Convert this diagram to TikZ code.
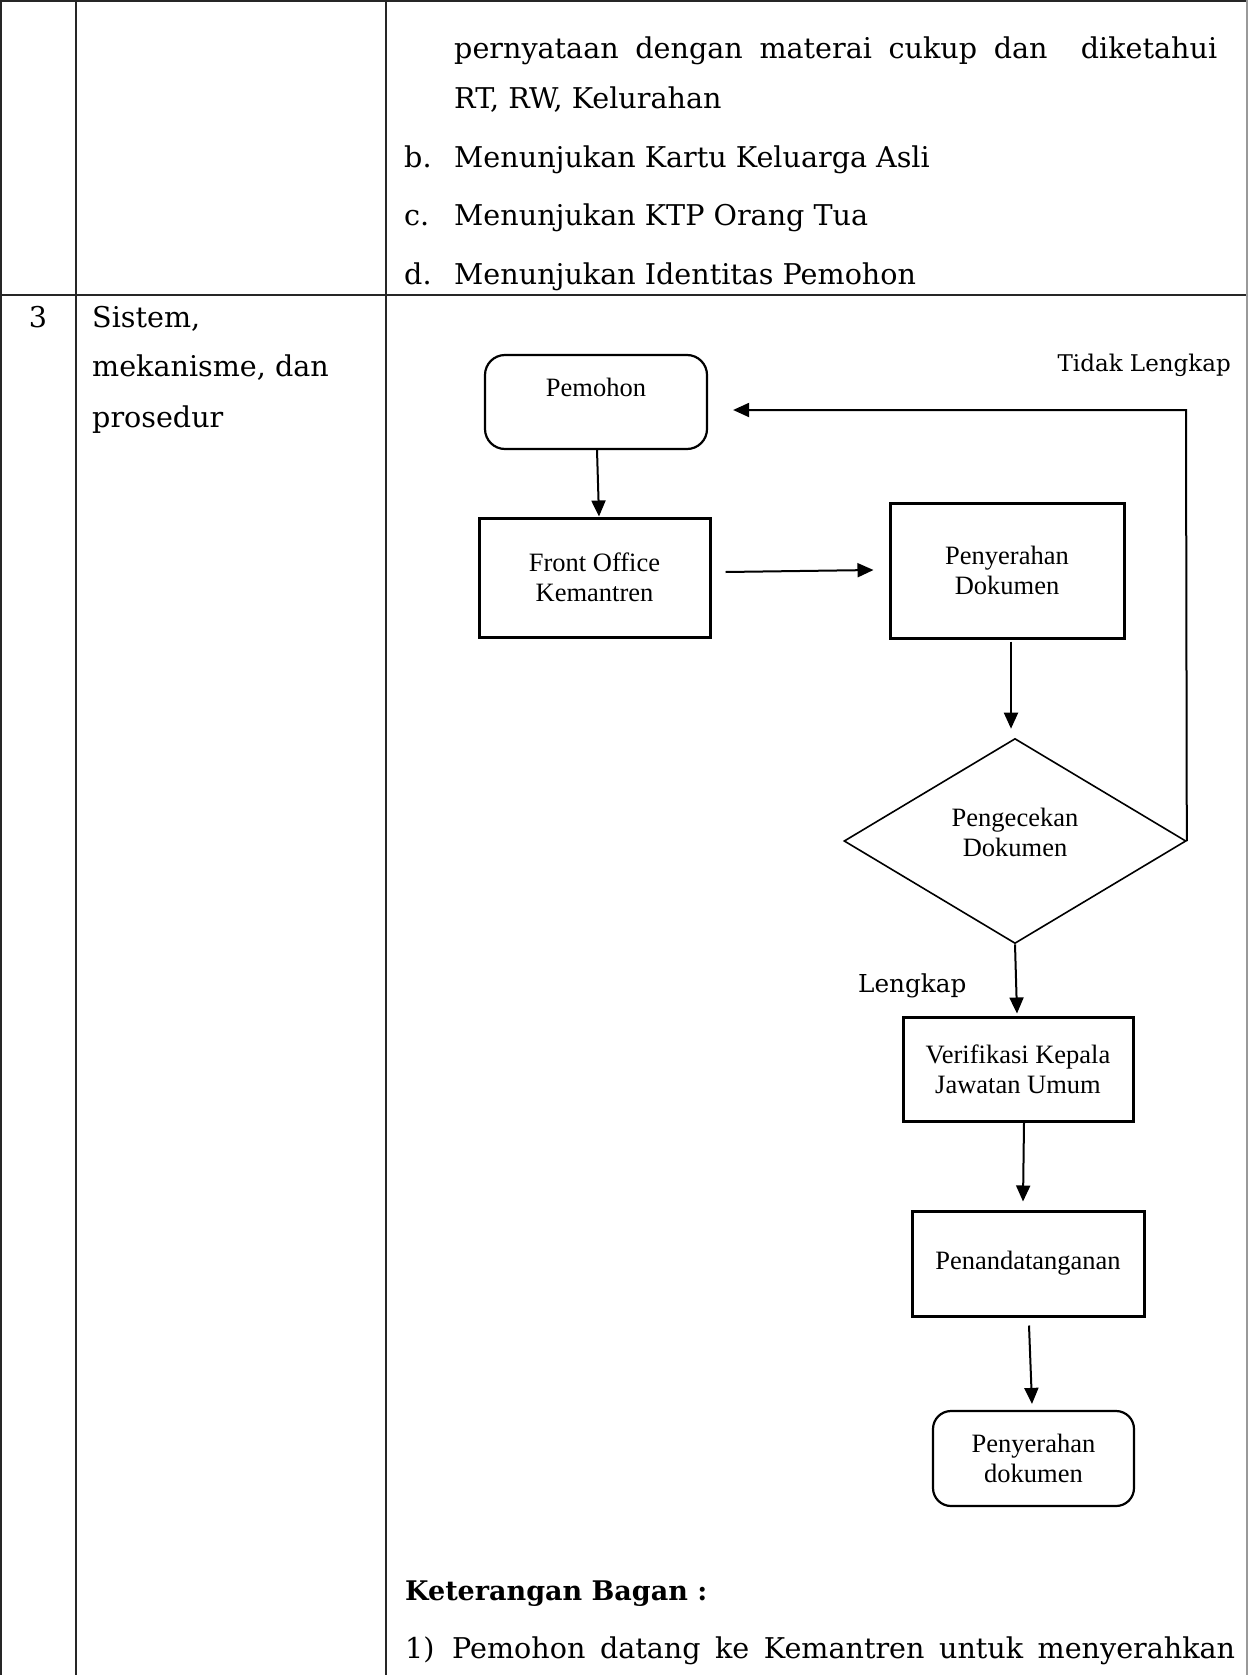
\documentclass[tikz,border=0pt]{standalone}
\usepackage{fontspec}
\setmainfont{DejaVu Serif}
\newfontfamily\tnr{Liberation Serif}
\usetikzlibrary{arrows.meta,shapes.geometric,calc}
\begin{document}
\begin{tikzpicture}[x=1pt,y=-1pt,
  tbl/.style={line width=2pt, draw=black!85},
  body/.style={font=\fontsize{28.6}{32}\selectfont, anchor=base west, inner sep=0pt},
  ftext/.style={font=\tnr\fontsize{26.5}{30}\selectfont, align=center, inner sep=0pt},
  sqbox/.style={draw, line width=3pt, inner sep=0pt},
  rbox/.style={draw, line width=2.2pt, rounded corners=20pt, inner sep=0pt},
  dbox/.style={draw, line width=1.6pt, diamond, aspect=1.67, inner sep=0pt},
  arr/.style={line width=2pt, -{Triangle[length=16pt,width=14pt]}}
]
\useasboundingbox (0,0) rectangle (1248,1675);
% table
\draw[tbl] (0,1) -- (1248,1);
\draw[tbl] (0,295) -- (1248,295);
\draw[tbl] (1,0) -- (1,1675);
\draw[tbl] (76,0) -- (76,1675);
\draw[tbl] (386,0) -- (386,1675);
\draw[line width=1.5pt, draw=black!40] (1247,0) -- (1247,1675);
% top cell text
\node[body] (t1) at (454,59) {\makebox[763pt][s]{pernyataan dengan materai cukup dan\ \ diketahui}};
\node[body] (t2) at (454,109) {RT, RW, Kelurahan};
\node[body] (lb) at (404,167) {b.};
\node[body] (t3) at (454,167) {Menunjukan Kartu Keluarga Asli};
\node[body] (lc) at (404,225) {c.};
\node[body] (t4) at (454,225) {Menunjukan KTP Orang Tua};
\node[body] (ld) at (404,284) {d.};
\node[body] (t5) at (454,284) {Menunjukan Identitas Pemohon};
% left column
\node[body, anchor=base] (n3) at (38,327) {3};
\node[body] (s1) at (92,327) {Sistem,};
\node[body] (s2) at (92,376) {mekanisme, dan};
\node[body] (s3) at (92,427) {prosedur};
% flowchart
\node[rbox, minimum width=222pt, minimum height=94pt] (pem) at (596,402) {};
\node[ftext] (pemt) at (596,387) {Pemohon};
\node[sqbox, minimum width=231pt, minimum height=119pt, ftext, draw, line width=3pt] (fo) at (594.5,577.5) {Front Office\\Kemantren};
\node[sqbox, minimum width=234pt, minimum height=135pt, ftext, draw, line width=3pt] (pd) at (1007,570.5) {Penyerahan\\Dokumen};
\node[dbox, minimum width=342pt, minimum height=205pt] (dia) at (1015,841) {};
\node[ftext] (diat) at (1015,832) {Pengecekan\\Dokumen};
\node[sqbox, minimum width=230pt, minimum height=104pt, ftext, draw, line width=3pt] (ver) at (1018,1069) {Verifikasi Kepala\\Jawatan Umum};
\node[sqbox, minimum width=232pt, minimum height=105pt, ftext, draw, line width=3pt] (pen) at (1028,1263.5) {Penandatanganan};
\node[rbox, rounded corners=18pt, minimum width=201pt, minimum height=95pt, ftext, draw, line width=2.2pt] (pdok) at (1033.5,1458.5) {Penyerahan\\dokumen};
\node[body, anchor=base east, font=\fontsize{23}{28}\selectfont] (tl) at (1231,371) {Tidak Lengkap};
\node[body, font=\fontsize{24.7}{28}\selectfont] (lk) at (858,992) {Lengkap};
% connectors
\draw[arr] ($(pem.south)+(1,0)$) -- ($(fo.north)+(4.5,0)$);
\draw[arr] ($(fo.east)+(14,-5.5)$) -- ($(pd.west)+(-15,-0.5)$);
\draw[arr] ($(pd.south)+(4,2)$) -- ($(dia.north)+(-4,-9)$);
\draw[arr] (dia.south) -- ($(ver.north)+(-1,-2)$);
\draw[arr] ($(ver.south)+(6,0)$) -- ($(pen.north)+(-5,-8)$);
\draw[arr] ($(pen.south)+(1,8)$) -- ($(pdok.north)+(-1.5,-6)$);
\coordinate (fbk) at (1186,410);
\draw[arr] (dia.east) -- (fbk) -- ($(pem.east)+(25,8)$);
% legend
\node[body, font=\fontsize{27}{30}\selectfont\bfseries] (ket) at (405,1600) {Keterangan Bagan :};
\node[body] (l1) at (405,1658) {1)};
\node[body] (l1t) at (452,1658) {\makebox[783pt][s]{Pemohon datang ke Kemantren untuk menyerahkan}};
\end{tikzpicture}
\end{document}
